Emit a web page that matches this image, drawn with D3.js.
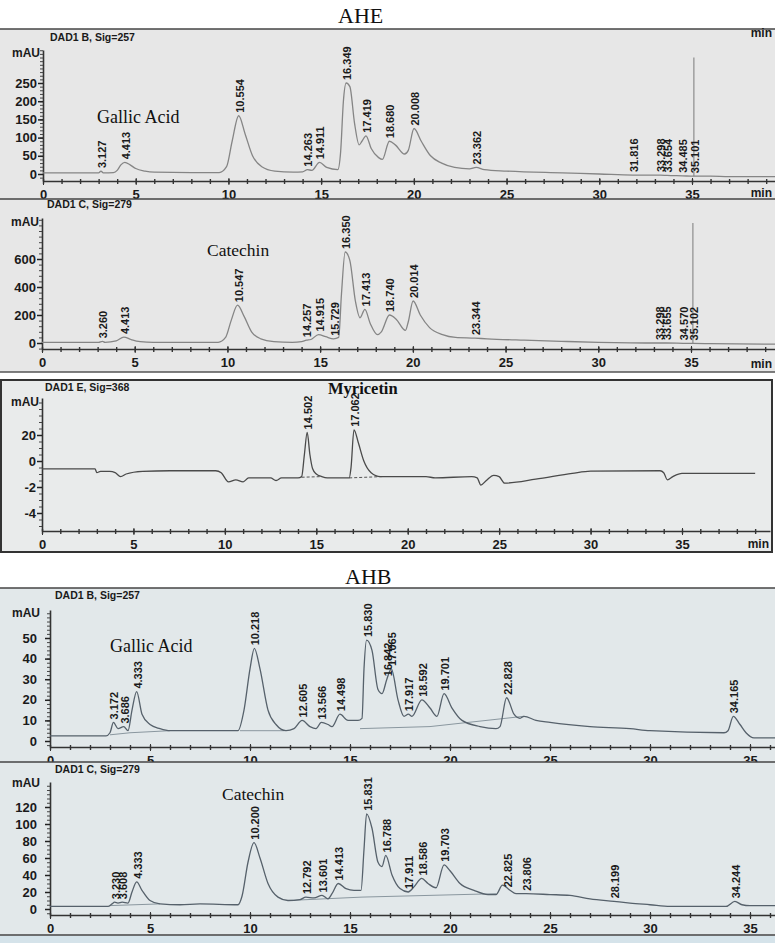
<!DOCTYPE html>
<html>
<head>
<meta charset="utf-8">
<script src="https://cdn.jsdelivr.net/npm/d3@7"></script>
<style>
  body { margin: 0; background: #fff; }
  svg text { font-family: "Liberation Sans", Arial, sans-serif; }
  .serif { font-family: "Liberation Serif", "Times New Roman", serif !important; }
</style>
</head>
<body>
<div id="chart"></div>
<script>
// ---------- values ----------
var minuteTicks = [0, 5, 10, 15, 20, 25, 30, 35];

// AHE, DAD1 B (Sig=257)
var aheBTicks = [0, 50, 100, 150, 200, 250];
var aheBTrace = [[0,3],[2,3],[3.0,3],[3.127,8],[3.25,3],[3.8,4],[4.0,10],[4.2,25],[4.413,32],[4.7,25],[5.0,15],[5.5,8],[6,5],[8,4],[9.5,4],
  [9.9,20],[10.2,90],[10.554,160],[10.9,110],[11.3,50],[11.8,20],[12.5,8],[13.5,5],[14.0,6],[14.263,12],[14.5,10],[14.911,32],[15.3,18],[15.9,12],
  [16.05,60],[16.2,200],[16.349,250],[16.55,240],[16.8,140],[17.05,80],[17.2,90],[17.419,105],[17.7,70],[18.1,45],[18.3,40],[18.68,90],[19.0,80],
  [19.5,55],[19.7,65],[20.008,125],[20.4,90],[20.9,50],[21.5,30],[22.2,18],[23.0,14],[23.362,18],[23.8,12],[25,8],[28,3],[30,0],[31.816,-3],
  [33.298,-3],[33.654,-4],[34.485,-5],[35.101,-6],[36,-6],[37,-7],[40,-7]];
var aheBPeaks = ["3.127","4.413","10.554","14.263","14.911","16.349","17.419","18.680","20.008","23.362","31.816","33.298","33.654","34.485","35.101"];
var aheBSpike = [35.101, 320];

// AHE, DAD1 C (Sig=279)
var aheCTicks = [0, 200, 400, 600];
var aheCTrace = [[0,5],[2.9,5],[3.05,5],[3.26,12],[3.4,5],[4.0,15],[4.413,42],[4.8,25],[5.3,10],[6,5],[9.5,5],[9.9,40],[10.2,160],[10.547,270],
  [10.9,190],[11.3,80],[11.8,30],[12.5,10],[13.5,5],[14.0,10],[14.257,20],[14.5,25],[14.915,60],[15.3,45],[15.729,30],[16.0,40],[16.15,350],
  [16.35,650],[16.6,590],[16.9,300],[17.15,180],[17.413,240],[17.7,140],[18.1,60],[18.3,80],[18.74,200],[19.1,170],[19.6,90],[19.75,150],
  [20.014,300],[20.4,200],[20.9,110],[21.6,60],[22.3,40],[23.344,35],[24,30],[26,20],[28,12],[30,5],[33.298,0],[33.655,0],[34.57,-2],
  [35.102,-3],[36,-5],[40,-8]];
var aheCPeaks = ["3.260","4.413","10.547","14.257","14.915","15.729","16.350","17.413","18.740","20.014","23.344","33.298","33.655","34.570","35.102"];
var aheCSpike = [35.102, 857];

// AHE, DAD1 E (Sig=368)
var aheETicks = [2, 0, -2, -4];
var aheETickLabels = ["20", "0", "-2", "-4"];
var aheETrace = [[0,-0.6],[2.9,-0.6],[3.0,-0.9],[3.2,-0.8],[3.7,-0.8],[4.0,-0.9],[4.3,-1.2],[4.6,-1.0],[5.5,-0.8],[7,-0.75],[9.5,-0.75],
  [9.8,-0.9],[10.2,-1.6],[10.6,-1.45],[11.0,-1.6],[11.3,-1.3],[12.5,-1.3],[12.8,-1.5],[13.1,-1.3],[14.0,-1.3],[14.2,-1.2],[14.35,0.5],
  [14.502,2.2],[14.65,0.5],[14.8,-0.6],[15.0,-1.0],[15.3,-1.2],[15.6,-1.3],[16.8,-1.3],[16.9,-0.5],[17.062,2.4],[17.3,1.4],[17.6,0.0],
  [18.0,-0.9],[18.5,-1.2],[21,-1.2],[21.5,-1.3],[23.5,-1.2],[23.8,-1.3],[24.0,-1.85],[24.3,-1.5],[24.7,-1.1],[25.0,-1.2],[25.3,-1.7],
  [27,-1.4],[29,-0.95],[30,-0.78],[33.8,-0.75],[34.0,-0.9],[34.2,-1.45],[34.5,-1.2],[35,-0.95],[39,-0.95]];
var aheEPeaks = ["14.502", "17.062"];
var aheEBase = [[[14.2,-1.25],[15.3,-1.2]], [[16.8,-1.3],[18.6,-1.2]]];

// AHB, DAD1 B (Sig=257)
var ahbBTicks = [0, 10, 20, 30, 40, 50];
var ahbBTrace = [[0,2.5],[2.8,2.5],[3.0,4],[3.172,9],[3.4,6],[3.686,7],[3.9,5],[4.1,15],[4.333,24],[4.6,13],[5.0,8],[5.5,6],[6.0,5],[9.4,5],
  [9.7,15],[10.0,35],[10.218,45],[10.5,35],[10.9,15],[11.3,8],[11.8,5],[12.2,6],[12.605,10],[13.0,7],[13.3,6],[13.566,9],[13.9,8],[14.1,7],
  [14.498,13],[14.9,10],[15.4,10],[15.6,11],[15.7,35],[15.83,49],[16.1,44],[16.4,25],[16.6,23],[16.842,30],[17.065,35],[17.4,20],[17.7,12],
  [17.917,13],[18.1,12],[18.592,20],[19.0,16],[19.35,12],[19.701,23],[20.1,16],[20.6,10],[21.5,7],[22.3,6],[22.5,7],[22.828,21],[23.2,13],
  [23.5,11],[23.7,12],[24.3,10],[25,9],[27,7],[29,6],[30,5],[33.7,4],[33.9,5],[34.165,12],[34.5,8],[34.8,4],[35.2,1.5],[36.5,1.5]];
var ahbBPeaks = ["3.172","3.686","4.333","10.218","12.605","13.566","14.498","15.830","16.842","17.065","17.917","18.592","19.701","22.828","34.165"];
var ahbBBase = [[[3.0,3],[4.0,4],[6.0,5]], [[9.5,5],[11.7,5]], [[15.5,6],[19,7],[23.7,12]]];

// AHB, DAD1 C (Sig=279)
var ahbCTicks = [0, 20, 40, 60, 80, 100, 120];
var ahbCTrace = [[0,3],[2.9,3],[3.1,6],[3.23,8],[3.4,7],[3.608,8],[3.9,7],[4.1,20],[4.333,32],[4.6,22],[5.0,10],[5.5,6],[6.5,5],[7.5,6],
  [9.4,5],[9.6,15],[9.9,55],[10.2,78],[10.5,60],[10.9,30],[11.4,14],[11.9,10],[12.5,11],[12.792,14],[13.2,13],[13.601,16],[13.9,12],
  [14.1,18],[14.413,30],[14.8,24],[15.2,22],[15.55,22],[15.7,70],[15.831,112],[16.1,95],[16.4,55],[16.6,50],[16.788,63],[17.1,40],
  [17.5,24],[17.911,20],[18.2,26],[18.586,36],[18.9,30],[19.3,25],[19.703,52],[20.0,45],[20.5,30],[21.2,22],[21.9,17],[22.3,17],
  [22.625,28],[23.0,22],[23.3,18],[23.806,18],[25,17],[26,16],[27,12],[28.199,9],[29,7],[30,5],[31,3],[33.8,3],[34.244,9],[34.6,5],
  [35,4],[36.5,4]];
var ahbCPeaks = ["3.230","3.608","4.333","10.200","12.792","13.601","14.413","15.831","16.788","17.911","18.586","19.703","22.825","23.806","28.199","34.244"];
var ahbCBase = [[[3.0,4],[5.5,6]], [[11.9,10],[15.6,14],[22.3,18]]];

// ---------- layout ----------
var W = 775, H = 943;
var svg = d3.select("#chart").append("svg").attr("width", W).attr("height", H);

var panels = [
  {bg: [29, 199], bgColor: "#e7e7e7", xRange: [43, 692], yDomain: [0, 250], yRange: [174, 83], axisY: 181, yTopPx: 50,
   ticks: aheBTicks, minorStep: 10, trace: aheBTrace, peaks: aheBPeaks, spike: aheBSpike, lineColor: "#858585",
   dad: "DAD1 B, Sig=257", dadY: 41, dadX: 50, mauY: 57, labPad: 1, minY: 37, minBottom: 197,
   name: "Gallic Acid", nameX: 97, nameY: 123, nameSize: 18},
  {bg: [199, 372], bgColor: "#e7e7e7", xRange: [42, 691], yDomain: [0, 600], yRange: [343, 259], axisY: 349, yTopPx: 218,
   ticks: aheCTicks, minorStep: 40, trace: aheCTrace, peaks: aheCPeaks, spike: aheCSpike, lineColor: "#858585",
   dad: "DAD1 C, Sig=279", dadY: 208, dadX: 47, mauY: 226, labPad: 1, minBottom: 368,
   name: "Catechin", nameX: 207, nameY: 256, nameSize: 17.5},
  {bg: [380, 552], bgColor: "#e9ebeb", xRange: [42, 682], yDomain: [0, -4], yRange: [461, 513], axisY: 531, yTopPx: 398,
   ticks: aheETicks, tickLabels: aheETickLabels, minorStep: 0.5, trace: aheETrace, peaks: aheEPeaks, base: aheEBase, baseDash: "3,2",
   lineColor: "#4a4a4a", dad: "DAD1 E, Sig=368", dadY: 391, dadX: 45, mauY: 406, labPad: 1, box: true, minBottom: 548, minX: 750,
   name: "Myricetin", nameX: 328, nameY: 394, nameBold: true, nameSize: 16.5},
  {bg: [588, 762], bgColor: "#e2e8ea", xRange: [50, 750], yDomain: [0, 50], yRange: [741, 638], axisY: 747, yTopPx: 610,
   ticks: ahbBTicks, minorStep: 2, trace: ahbBTrace, peaks: ahbBPeaks, base: ahbBBase, lineColor: "#56616b",
   dad: "DAD1 B, Sig=257", dadY: 599, dadX: 55, mauY: 617, labPad: 8,
   name: "Gallic Acid", nameX: 110, nameY: 652, nameSize: 18},
  {bg: [762, 943], bgColor: "#e2e8ea", xRange: [50, 750], yDomain: [0, 120], yRange: [909, 807], axisY: 915, yTopPx: 782,
   ticks: ahbCTicks, minorStep: 5, trace: ahbCTrace, peaks: ahbCPeaks, base: ahbCBase, lineColor: "#56616b",
   dad: "DAD1 C, Sig=279", dadY: 773, dadX: 55, mauY: 787, labPad: 8,
   name: "Catechin", nameX: 222, nameY: 800, nameSize: 17.5}
];

// titles
svg.append("text").attr("class", "serif").attr("x", 338).attr("y", 23)
  .style("font-size", "22px").attr("fill", "#111").text("AHE");
svg.append("text").attr("class", "serif").attr("x", 345).attr("y", 584)
  .style("font-size", "22px").attr("fill", "#111").text("AHB");

function apexAt(trace, t) {
  var best = trace[0];
  trace.forEach(function(d) { if (Math.abs(d[0] - t) < Math.abs(best[0] - t)) best = d; });
  return best[1];
}

var minLayer = [];

panels.forEach(function(p) {
  var g = svg.append("g");

  // panel background
  g.append("rect").attr("x", 0).attr("y", p.bg[0]).attr("width", p.box ? 772 : W)
    .attr("height", p.bg[1] - p.bg[0]).attr("fill", p.bgColor);

  var x = d3.scaleLinear().domain([0, 35]).range(p.xRange);
  var y = d3.scaleLinear().domain(p.yDomain).range(p.yRange);
  var xRight = p.box ? 770 : W;
  var xs = x.copy().domain([0, x.invert(xRight)]).range([x(0), xRight]);
  var ys = y.copy().domain([y.invert(p.axisY), y.invert(p.yTopPx)]).range([p.axisY, p.yTopPx]);

  // x axis: minor ticks every minute, labels every 5
  var xMinor = g.append("g").attr("transform", "translate(0," + p.axisY + ")")
    .call(d3.axisBottom(xs).tickValues(d3.range(0, Math.floor(xs.domain()[1]) + 1)).tickSize(3).tickFormat("").tickSizeOuter(0));
  xMinor.select(".domain").attr("stroke", "#333").attr("stroke-width", 1.6);
  xMinor.selectAll(".tick line").attr("stroke", "#333").attr("stroke-width", 1.4).attr("y1", -2);
  var xMajor = g.append("g").attr("transform", "translate(0," + p.axisY + ")")
    .call(d3.axisBottom(xs).tickValues(minuteTicks).tickSize(4).tickPadding(5).tickSizeOuter(0));
  xMajor.select(".domain").remove();
  xMajor.selectAll(".tick line").attr("stroke", "#333").attr("y1", -3);
  xMajor.selectAll("text").attr("fill", "#1a1a1a").style("font-size", "13px").style("font-weight", "bold");

  // y axis
  var minorVals = d3.range(Math.ceil(ys.domain()[0] / p.minorStep) * p.minorStep, ys.domain()[1], p.minorStep);
  var yMinor = g.append("g").attr("transform", "translate(" + x(0) + ",0)")
    .call(d3.axisLeft(ys).tickValues(minorVals).tickSize(3).tickFormat("").tickSizeOuter(0));
  yMinor.select(".domain").attr("stroke", "#333").attr("stroke-width", 1.6);
  yMinor.selectAll(".tick line").attr("stroke", "#444");
  var yMajor = g.append("g").attr("transform", "translate(" + x(0) + ",0)")
    .call(d3.axisLeft(ys).tickValues(p.ticks).tickSize(5).tickPadding(p.labPad).tickSizeOuter(0)
      .tickFormat(function(d, i) { return p.tickLabels ? p.tickLabels[i] : d; }));
  yMajor.select(".domain").remove();
  yMajor.selectAll(".tick line").attr("stroke", "#222").attr("stroke-width", 1.5);
  yMajor.selectAll("text").attr("fill", "#1a1a1a").style("font-size", "13px").style("font-weight", "bold");

  g.append("text").attr("x", x(0) - 3 - (p.labPad - 1)).attr("y", p.mauY).attr("text-anchor", "end")
    .style("font-size", "12px").style("font-weight", "bold").attr("fill", "#1a1a1a").text("mAU");
  g.append("text").attr("x", p.dadX).attr("y", p.dadY)
    .style("font-size", "10.5px").style("font-weight", "bold").attr("fill", "#1a1a1a").text(p.dad);

  // "min" unit labels at the right edge (drawn last, on top)
  if (p.minY !== undefined) minLayer.push([772, p.minY]);
  if (p.minBottom !== undefined) minLayer.push([p.minX ? p.minX + 19 : 772, p.minBottom]);

  // integration baselines
  if (p.base) {
    p.base.forEach(function(seg) {
      g.append("path").datum(seg)
        .attr("d", d3.line().x(function(d) { return x(d[0]); }).y(function(d) { return y(d[1]); }))
        .attr("fill", "none").attr("stroke", p.baseDash ? "#555" : "#8a979f").attr("stroke-width", 1)
        .attr("stroke-dasharray", p.baseDash || null);
    });
  }

  // spike
  if (p.spike) {
    g.append("line").attr("x1", x(p.spike[0])).attr("x2", x(p.spike[0]))
      .attr("y1", y(apexAt(p.trace, p.spike[0]))).attr("y2", y(p.spike[1]))
      .attr("stroke", "#8d8d8d").attr("stroke-width", 1.2);
  }

  // trace
  g.append("path").datum(p.trace)
    .attr("d", d3.line().x(function(d) { return Math.min(x(d[0]), xRight); }).y(function(d) { return y(d[1]); }).curve(d3.curveMonotoneX))
    .attr("fill", "none").attr("stroke", p.lineColor).attr("stroke-width", 1.3);

  // peak labels
  g.selectAll(".pk").data(p.peaks).enter().append("text")
    .attr("transform", function(d) {
      return "translate(" + (x(+d) + 5) + "," + (y(apexAt(p.trace, +d)) - 3) + ") rotate(-90)";
    })
    .style("font-size", "11px").style("font-weight", "bold").attr("fill", "#1a1a1a")
    .text(function(d) { return d; });

  // compound name
  g.append("text").attr("class", "serif").attr("x", p.nameX).attr("y", p.nameY)
    .style("font-size", p.nameSize + "px").style("font-weight", p.nameBold ? "bold" : "normal")
    .attr("fill", "#111").text(p.name);

  // frame
  if (p.box) {
    g.append("rect").attr("x", 1).attr("y", p.bg[0]).attr("width", 771).attr("height", p.bg[1] - p.bg[0])
      .attr("fill", "none").attr("stroke", "#333").attr("stroke-width", 2);
  } else {
    g.append("line").attr("x1", 0).attr("x2", W).attr("y1", p.bg[0]).attr("y2", p.bg[0])
      .attr("stroke", "#444").attr("stroke-width", 1.6);
  }
});

// closing lines of the two-panel groups
svg.append("line").attr("x1", 0).attr("x2", W).attr("y1", 372).attr("y2", 372).attr("stroke", "#555").attr("stroke-width", 1.4);
svg.append("line").attr("x1", 0).attr("x2", W).attr("y1", 935).attr("y2", 935).attr("stroke", "#444").attr("stroke-width", 1.6);
svg.append("rect").attr("x", 0).attr("y", 936).attr("width", W).attr("height", 7).attr("fill", "#d5e3ea");

svg.selectAll(".minlab").data(minLayer).enter().append("text")
  .attr("x", function(d) { return d[0]; }).attr("y", function(d) { return d[1]; }).attr("text-anchor", "end")
  .style("font-size", "12px").style("font-weight", "bold").attr("fill", "#1a1a1a").text("min");
</script>
</body>
</html>
